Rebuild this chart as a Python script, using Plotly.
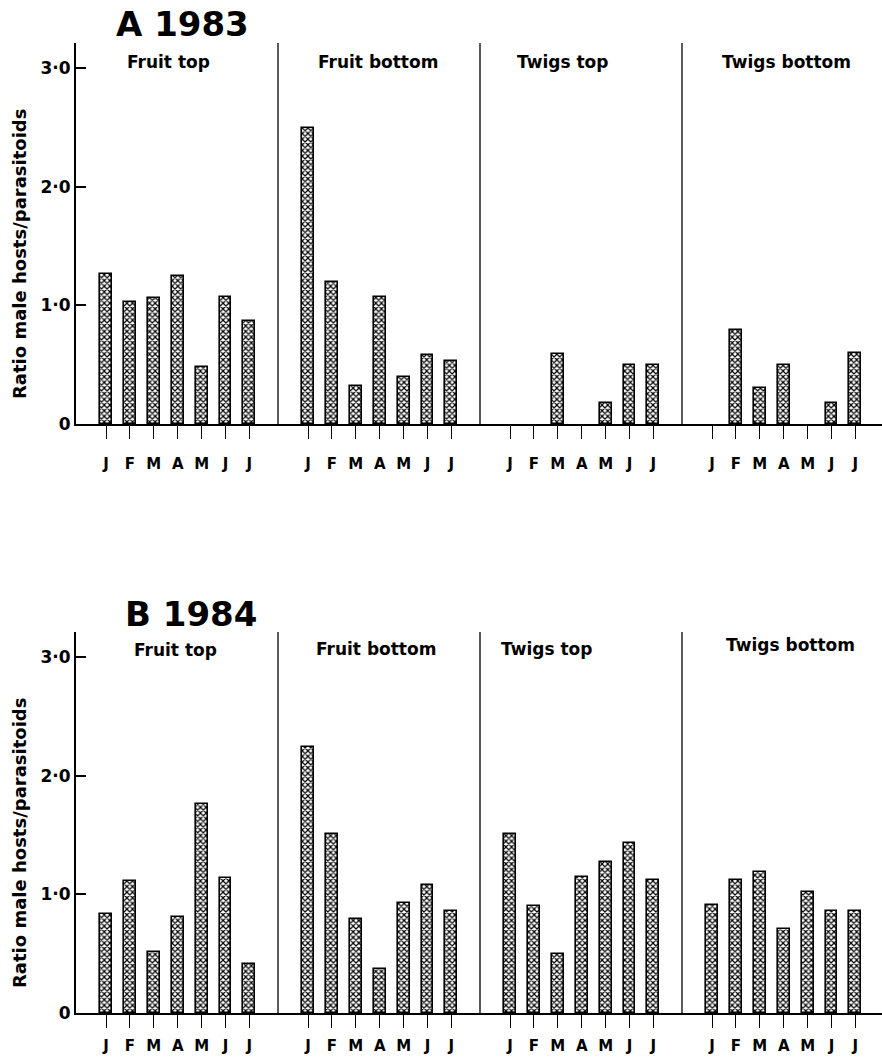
import plotly.graph_objects as go

# ---- data -------------------------------------------------------------
months = ["J", "F", "M", "A", "M", "J", "J"]
panels = ["Fruit top", "Fruit bottom", "Twigs top", "Twigs bottom"]
y_tick_vals = [0, 1, 2, 3]
y_tick_text = ["0", "1·0", "2·0", "3·0"]

# 1983 ratios (male hosts / parasitoids), Jan-Jul
ratio_1983_fruit_top = [1.26, 1.03, 1.06, 1.25, 0.48, 1.07, 0.87]
ratio_1983_fruit_bottom = [2.49, 1.20, 0.32, 1.07, 0.40, 0.58, 0.53]
ratio_1983_twigs_top = [0.0, 0.0, 0.59, 0.0, 0.18, 0.50, 0.50]
ratio_1983_twigs_bottom = [0.0, 0.79, 0.30, 0.50, 0.0, 0.18, 0.60]

# 1984 ratios (male hosts / parasitoids), Jan-Jul
ratio_1984_fruit_top = [0.83, 1.11, 0.51, 0.81, 1.76, 1.14, 0.41]
ratio_1984_fruit_bottom = [2.24, 1.51, 0.79, 0.37, 0.93, 1.08, 0.86]
ratio_1984_twigs_top = [1.51, 0.90, 0.50, 1.15, 1.27, 1.43, 1.12]
ratio_1984_twigs_bottom = [0.91, 1.12, 1.19, 0.71, 1.02, 0.86, 0.86]

years = [
    ("A 1983", [ratio_1983_fruit_top, ratio_1983_fruit_bottom,
                ratio_1983_twigs_top, ratio_1983_twigs_bottom]),
    ("B 1984", [ratio_1984_fruit_top, ratio_1984_fruit_bottom,
                ratio_1984_twigs_top, ratio_1984_twigs_bottom]),
]

# ---- layout constants ---------------------------------------------------
W, H = 882, 1060
PX_PER_UNIT = 23.9          # one month slot in pixels
AXIS_LEFT_PX = 76
PANEL_SPAN = 202 / PX_PER_UNIT
FIRST_OFFSET = 30 / PX_PER_UNIT
X_MAX = (W - AXIS_LEFT_PX) / PX_PER_UNIT
Y_MAX = 3.21
FONT = "DejaVu Sans"

# per-row geometry in pixels
rows = [
    dict(zero=424, top=43, standoff=12, title_y=24,
         label_y=[62, 62, 62, 62], title_x=182),
    dict(zero=1013, top=632, standoff=5, title_y=614,
         label_y=[650, 649, 649, 645], title_x=191),
]
panel_label_px = [[168, 378, 562, 786], [175, 376, 546, 790]]

fig = go.Figure()
annotations = []
shapes = []

for r, (year_label, series) in enumerate(years):
    geo = rows[r]
    xa = "x" if r == 0 else "x2"
    ya = "y" if r == 0 else "y2"
    tick_pos = []
    tick_txt = []
    for p, vals in enumerate(series):
        xs = [p * PANEL_SPAN + FIRST_OFFSET + k for k in range(len(months))]
        tick_pos += xs
        tick_txt += months
        # empty months get no outline, so nothing is drawn for them
        outline = [1.6 if v > 0 else 0 for v in vals]
        fig.add_trace(go.Bar(
            x=xs, y=vals, width=0.5,
            marker=dict(
                color="white",
                line=dict(color="black", width=outline),
                pattern=dict(shape="x", size=4, solidity=0.5,
                             fgcolor="black", bgcolor="white",
                             fillmode="replace"),
            ),
            xaxis=xa, yaxis=ya, showlegend=False,
            name=f"{year_label} {panels[p]}",
        ))
        # panel heading
        annotations.append(dict(
            text=panels[p], xref="paper", yref="paper",
            x=panel_label_px[r][p] / W, y=1 - geo["label_y"][p] / H,
            xanchor="center", yanchor="middle", showarrow=False,
            font=dict(family=FONT, size=17, color="black", weight="bold"),
        ))
        # panel separator
        if p > 0:
            shapes.append(dict(
                type="line", xref=xa, yref=ya,
                x0=p * PANEL_SPAN, x1=p * PANEL_SPAN, y0=0, y1=Y_MAX,
                line=dict(color="black", width=1.3),
            ))

    dom = [1 - geo["zero"] / H, 1 - geo["top"] / H]
    axis_suffix = "" if r == 0 else "2"
    fig.layout["xaxis" + axis_suffix] = dict(
        domain=[AXIS_LEFT_PX / W, 1.0], range=[0, X_MAX],
        anchor=ya, showline=True, linewidth=2, linecolor="black",
        ticks="outside", ticklen=13, tickwidth=1, tickcolor="black",
        tickvals=tick_pos, ticktext=tick_txt, ticklabelstandoff=geo["standoff"],
        tickfont=dict(family=FONT, size=15, color="black", weight="bold"),
        showgrid=False, zeroline=False, automargin=False, fixedrange=True,
    )
    fig.layout["yaxis" + axis_suffix] = dict(
        domain=dom, range=[0, Y_MAX], anchor=xa,
        showline=True, linewidth=2, linecolor="black",
        ticks="inside", ticklen=10, tickwidth=1.5, tickcolor="black",
        tickvals=y_tick_vals, ticktext=y_tick_text,
        tickfont=dict(family=FONT, size=17, color="black", weight="bold"),
        showgrid=False, zeroline=False, automargin=False, fixedrange=True,
    )

    # year heading
    annotations.append(dict(
        text=year_label, xref="paper", yref="paper",
        x=geo["title_x"] / W, y=1 - geo["title_y"] / H,
        xanchor="center", yanchor="middle", showarrow=False,
        font=dict(family=FONT, size=34, color="black", weight="bold"),
    ))
    # y-axis title
    annotations.append(dict(
        text="Ratio male hosts/parasitoids", xref="paper", yref="paper",
        x=19 / W, y=1 - (geo["zero"] - 170) / H, textangle=-90,
        xanchor="center", yanchor="middle", showarrow=False,
        font=dict(family=FONT, size=18, color="black", weight="bold"),
    ))

fig.update_layout(
    width=W, height=H,
    margin=dict(l=0, r=0, t=0, b=0),
    paper_bgcolor="white", plot_bgcolor="white",
    bargap=0, annotations=annotations, shapes=shapes,
    showlegend=False,
)

fig.write_html("out.html")
